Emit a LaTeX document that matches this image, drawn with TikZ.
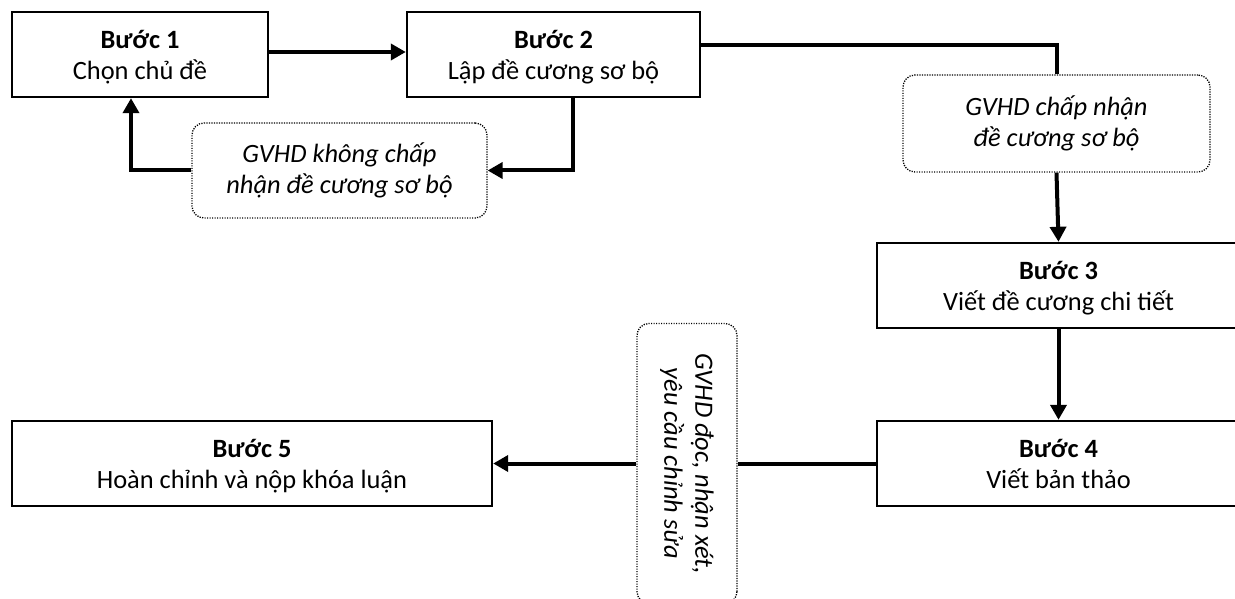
\documentclass[tikz,border=0pt]{standalone}
\usepackage{fontspec}
\setmainfont{Carlito}
\usetikzlibrary{arrows.meta}
\begin{document}
\begin{tikzpicture}[x=1pt,y=-1pt,
  stepbox/.style={draw=black, line width=2.4pt, inner sep=0pt, align=center, text depth=0pt, font=\fontsize{26.4}{31}\selectfont},
  notebox/.style={draw=black, line width=1.3pt, dash pattern=on 1.2pt off 1.3pt, rounded corners=12pt, inner sep=0pt, align=center, font=\fontsize{26.4}{31}\selectfont\itshape},
  conn/.style={line width=4pt},
  arr/.style={conn, -{Triangle[length=15pt,width=16pt]}}]
\useasboundingbox (0,0) rectangle (1235,599);
\clip (0,0) rectangle (1235,599);
\node[stepbox, minimum width=256pt, minimum height=85pt] (b1) at (140,54.5) {\textbf{Bước 1}\\Chọn chủ đề};
\node[stepbox, minimum width=293pt, minimum height=85pt] (b2) at (553.5,54.5) {\textbf{Bước 2}\\Lập đề cương sơ bộ};
\node[stepbox, minimum width=363pt, minimum height=85pt] (b3) at (1058.5,285.5) {\textbf{Bước 3}\\Viết đề cương chi tiết};
\node[stepbox, minimum width=363pt, minimum height=85pt] (b4) at (1058.5,463.5) {\textbf{Bước 4}\\Viết bản thảo};
\node[stepbox, minimum width=480pt, minimum height=85pt] (b5) at (252,463.5) {\textbf{Bước 5}\\Hoàn chỉnh và nộp khóa luận};
\node[notebox, minimum width=295pt, minimum height=95pt] (n1) at (339.5,170.5) {GVHD không chấp\\nhận đề cương sơ bộ};
\node[notebox, minimum width=307pt, minimum height=97pt] (n2) at (1056.5,123.5) {GVHD chấp nhận\\đề cương sơ bộ};
\node[notebox, rotate=-90, minimum width=280pt, minimum height=100pt] (n3) at (687,463.5) {GVHD đọc, nhận xét,\\yêu cầu chỉnh sửa};
\draw[arr] ([yshift=2.5pt]b1.east) -- ([yshift=2.5pt]b2.west);
\draw[arr] ([xshift=19.5pt]b2.south) |- (n1.east);
\draw[arr] (n1.west) -| ([xshift=-9pt]b1.south);
\draw[conn] ([yshift=9.5pt]b2.east) -| (n2.north);
\draw[arr] (n2.south) -- (b3.north);
\draw[arr] (b3.south) -- (b4.north);
\draw[conn] (b4.west) -- (n3.north);
\draw[arr] (n3.south) -- (b5.east);
\end{tikzpicture}
\end{document}
